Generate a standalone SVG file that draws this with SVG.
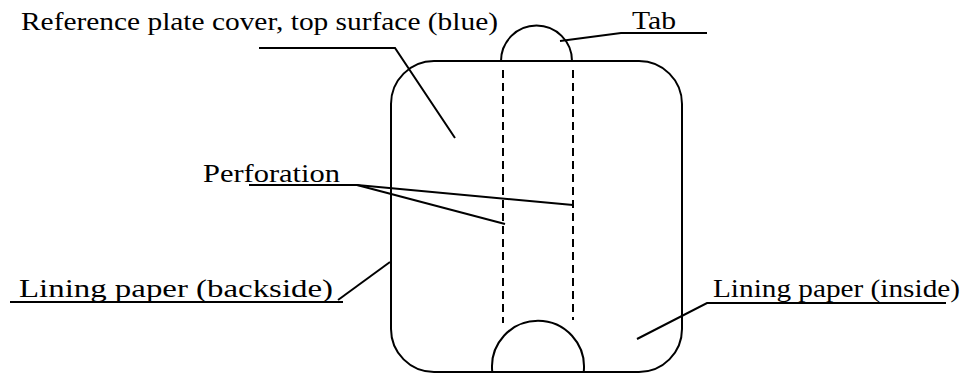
<svg xmlns="http://www.w3.org/2000/svg" width="972" height="374" viewBox="0 0 972 374">
<style>
.s{fill:none;stroke:#000;stroke-width:2}
.d{fill:none;stroke:#000;stroke-width:2;stroke-dasharray:8 5}
.t{font-family:"Liberation Serif","Times New Roman",serif;font-size:25px;fill:#000}
</style>
<rect width="972" height="374" fill="#fff"/>
<g id="cover">
<path class="s" d="M501,61 A35.5,35.5 0 0 1 572,61"/>
<rect class="s" x="391" y="61" width="291" height="311" rx="43" ry="43"/>
<path class="s" d="M492.2,371 A46,46 0 1 1 583.8,371"/>
<line class="d" x1="503" y1="70" x2="503" y2="323"/>
<line class="d" x1="573" y1="70" x2="573" y2="320"/>
</g>
<g id="label-reference">
<text class="t" x="21" y="30" textLength="477" lengthAdjust="spacingAndGlyphs">Reference plate cover, top surface (blue)</text>
</g>
<g id="label-tab">
<text class="t" x="632" y="29" textLength="44" lengthAdjust="spacingAndGlyphs">Tab</text>
</g>
<g id="label-perforation">
<text class="t" x="203" y="182" textLength="137" lengthAdjust="spacingAndGlyphs">Perforation</text>
</g>
<g id="label-backside">
<text class="t" x="19" y="297" textLength="314" lengthAdjust="spacingAndGlyphs">Lining paper (backside)</text>
</g>
<g id="label-inside">
<text class="t" x="713" y="297" textLength="247" lengthAdjust="spacingAndGlyphs">Lining paper (inside)</text>
</g>
<g id="connectors">
<polyline class="s" points="259,48 395,48 455,138"/>
<polyline class="s" points="707,33 621,33 560,41"/>
<polyline class="s" points="249,185 357,185 573,205"/>
<line class="s" x1="357" y1="185" x2="505" y2="224"/>
<polyline class="s" points="10,302 343,302"/>
<line class="s" x1="338" y1="300" x2="390" y2="262"/>
<polyline class="s" points="946,303 707,303 637,339"/>
</g>
</svg>
